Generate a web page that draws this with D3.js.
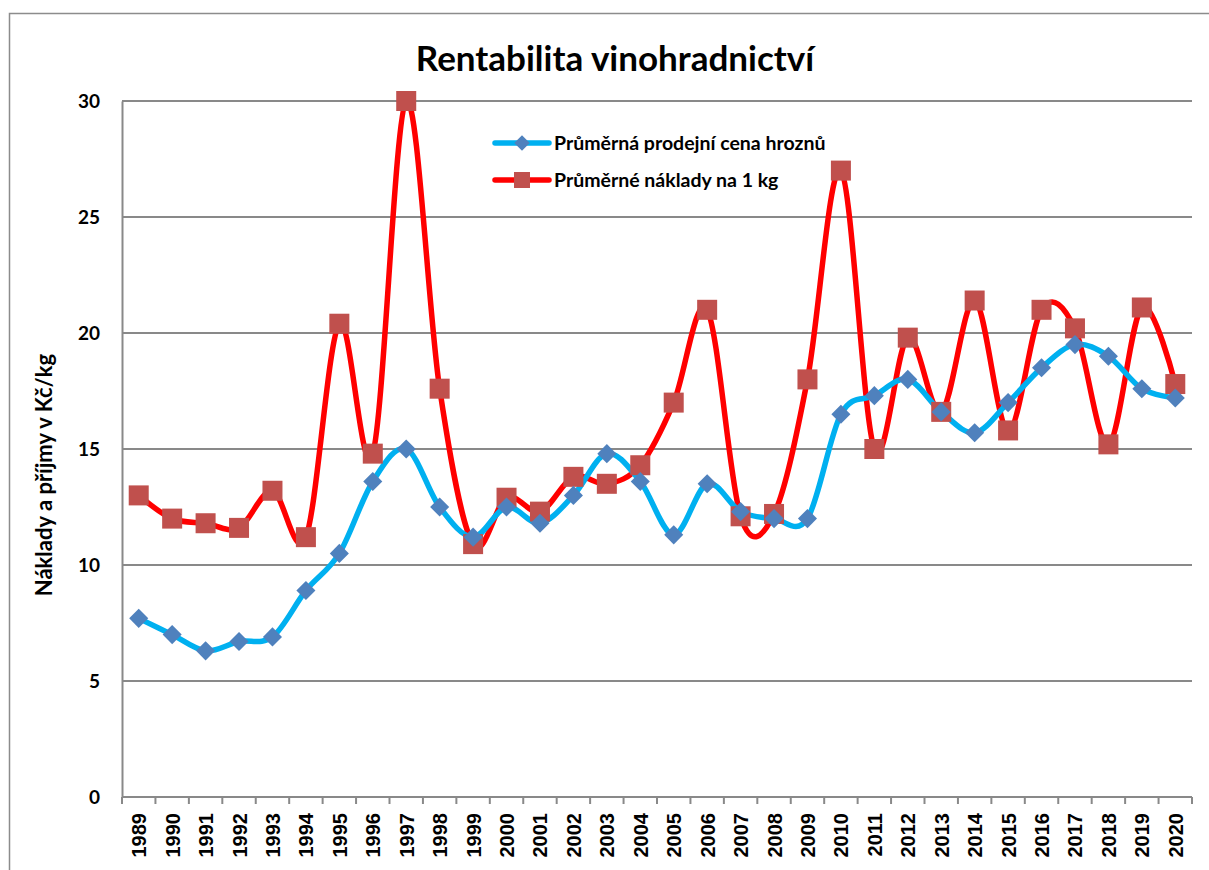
<!DOCTYPE html>
<html>
<head>
<meta charset="utf-8">
<script src="https://cdn.jsdelivr.net/npm/d3@7"></script>
<style>
  body { margin: 0; background: #fff; }
  svg { display: block; }
</style>
</head>
<body>
<svg width="1209" height="870"></svg>
<script>
const years = d3.range(1989, 2021).map(String);

// průměrná prodejní cena hroznů (Kč/kg)
const cena = [7.7, 7.0, 6.3, 6.7, 6.9, 8.9, 10.5, 13.6, 15.0, 12.5, 11.2, 12.5, 11.8, 13.0, 14.8, 13.6,
    11.3, 13.5, 12.3, 12.0, 12.0, 16.5, 17.3, 18.0, 16.6, 15.7, 17.0, 18.5, 19.5, 19.0, 17.6, 17.2];

// průměrné náklady na 1 kg
const naklady = [13.0, 12.0, 11.8, 11.6, 13.2, 11.2, 20.4, 14.8, 30.0, 17.6, 10.9, 12.9, 12.3, 13.8, 13.5, 14.3,
    17.0, 21.0, 12.1, 12.2, 18.0, 27.0, 15.0, 19.8, 16.6, 21.4, 15.8, 21.0, 20.2, 15.2, 21.1, 17.8];

const yTicks = [0, 5, 10, 15, 20, 25, 30];
const seriesNames = ['Průměrná prodejní cena hroznů', 'Průměrné náklady na 1 kg'];

const svg = d3.select('svg'),
    margin = { left: 122, right: 17, top: 101, bottom: 73 },
    W = 1209, H = 870,
    axisColor = '#898989';

// outer frame
svg.append('rect')
    .attr('x', 9.5).attr('y', 13.5)
    .attr('width', W + 10).attr('height', H + 10)
    .attr('fill', 'none').attr('stroke', '#8c8c8c').attr('stroke-width', 1.5);

const x = d3.scaleBand()
    .domain(years)
    .range([margin.left, W - margin.right]);

const y = d3.scaleLinear()
    .domain([0, 30])
    .range([H - margin.bottom, margin.top]);

const xc = d => x(d) + x.bandwidth() / 2;

// gridlines
svg.append('g')
    .selectAll('line')
    .data(yTicks.filter(t => t > 0))
    .enter().append('line')
    .attr('x1', margin.left).attr('x2', W - margin.right)
    .attr('y1', d => y(d)).attr('y2', d => y(d))
    .attr('stroke', axisColor).attr('stroke-width', 2);

// y axis
const yAxis = svg.append('g')
    .attr('transform', 'translate(' + margin.left + ',0)')
    .call(d3.axisLeft(y).tickValues(yTicks).tickSize(0).tickPadding(22));
yAxis.select('.domain').attr('stroke', axisColor).attr('stroke-width', 2);
yAxis.selectAll('text')
    .style('font-family', 'Lato, "Liberation Sans", sans-serif')
    .style('font-weight', 'bold')
    .style('font-size', '19px')
    .attr('fill', '#000');

// x axis
const xAxis = svg.append('g')
    .attr('transform', 'translate(0,' + y(0) + ')');
xAxis.append('line')
    .attr('x1', margin.left).attr('x2', W - margin.right)
    .attr('stroke', axisColor).attr('stroke-width', 2);
xAxis.selectAll('line.tick')
    .data(years.concat(['end']))
    .enter().append('line')
    .attr('class', 'tick')
    .attr('x1', (d, i) => margin.left + i * x.bandwidth())
    .attr('x2', (d, i) => margin.left + i * x.bandwidth())
    .attr('y1', 0).attr('y2', 7)
    .attr('stroke', axisColor).attr('stroke-width', 2);
xAxis.selectAll('text')
    .data(years)
    .enter().append('text')
    .attr('transform', d => 'translate(' + (xc(d) + 7.5) + ',16) rotate(-90)')
    .attr('text-anchor', 'end')
    .style('font-family', '"Liberation Sans", Arial, sans-serif')
    .style('font-weight', 'bold')
    .style('font-size', '20px')
    .text(d => d);

// y axis title
svg.append('text')
    .attr('transform', 'translate(52,475) rotate(-90)')
    .attr('text-anchor', 'middle')
    .style('font-family', 'Lato, sans-serif')
    .style('font-weight', 'bold')
    .style('font-size', '22px')
    .text('Náklady a příjmy v Kč/kg');

// title
svg.append('text')
    .attr('x', 615).attr('y', 71)
    .attr('text-anchor', 'middle')
    .style('font-family', 'Lato, sans-serif')
    .style('font-weight', 'bold')
    .style('font-size', '35px')
    .text('Rentabilita vinohradnictví');

const line = d3.line()
    .x((d, i) => xc(years[i]))
    .y(d => y(d))
    .curve(d3.curveCardinal.tension(0));

// red series
svg.append('path')
    .datum(naklady)
    .attr('d', line)
    .attr('fill', 'none').attr('stroke', '#ff0000').attr('stroke-width', 5.5);

// blue series
svg.append('path')
    .datum(cena)
    .attr('d', line)
    .attr('fill', 'none').attr('stroke', '#00b0f0').attr('stroke-width', 5.5);

const sq = 20, dm = 13.5;

svg.append('g')
    .selectAll('rect')
    .data(naklady)
    .enter().append('rect')
    .attr('x', (d, i) => xc(years[i]) - sq / 2)
    .attr('y', d => y(d) - sq / 2)
    .attr('width', sq).attr('height', sq)
    .attr('fill', '#c0504d');

svg.append('g')
    .selectAll('rect')
    .data(cena)
    .enter().append('rect')
    .attr('transform', (d, i) => 'translate(' + xc(years[i]) + ',' + y(d) + ') rotate(45)')
    .attr('x', -dm / 2).attr('y', -dm / 2)
    .attr('width', dm).attr('height', dm)
    .attr('fill', '#4f81bd');

// legend
const legend = svg.append('g').attr('transform', 'translate(493,143)');
const lg = legend.selectAll('g')
    .data(seriesNames)
    .enter().append('g')
    .attr('transform', (d, i) => 'translate(0,' + i * 37 + ')');
lg.append('line')
    .attr('x1', 2).attr('x2', 56)
    .attr('stroke', (d, i) => i ? '#ff0000' : '#00b0f0')
    .attr('stroke-width', 5.5).attr('stroke-linecap', 'round');
lg.filter((d, i) => i === 0).append('rect')
    .attr('transform', 'translate(29,0) rotate(45)')
    .attr('x', -5.5).attr('y', -5.5).attr('width', 11).attr('height', 11)
    .attr('fill', '#4f81bd');
lg.filter((d, i) => i === 1).append('rect')
    .attr('x', 29 - 8).attr('y', -8).attr('width', 16).attr('height', 16)
    .attr('fill', '#c0504d');
lg.append('text')
    .attr('x', 61).attr('dy', '0.35em')
    .style('font-family', 'Lato, sans-serif')
    .style('font-weight', 'bold')
    .style('font-size', '19.5px')
    .text(d => d);
</script>
</body>
</html>
